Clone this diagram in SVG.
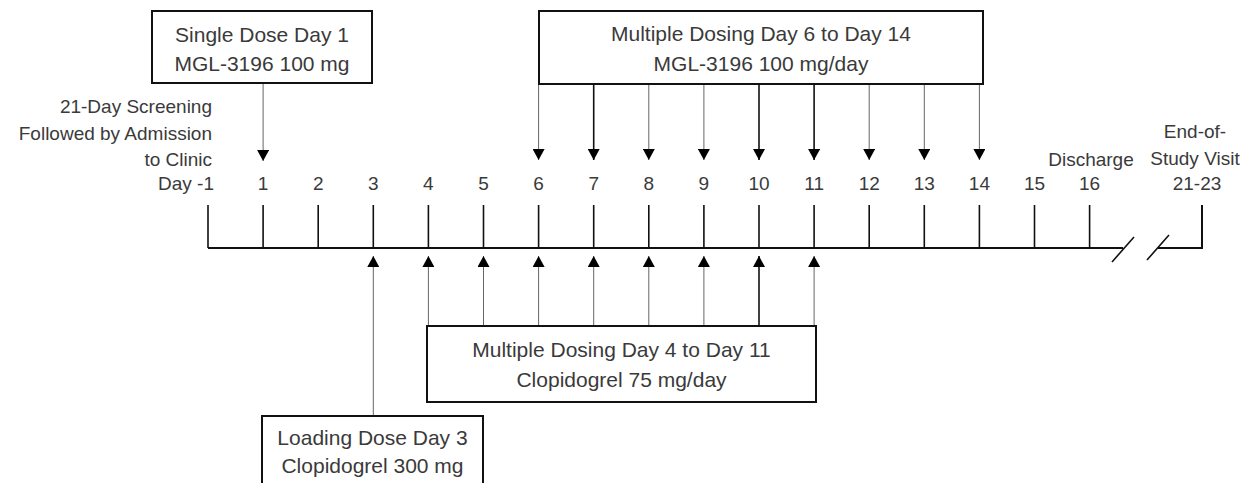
<svg xmlns="http://www.w3.org/2000/svg" width="1252" height="483" viewBox="0 0 1252 483">
<defs>
<style>
text{font-family:"Liberation Sans",Arial,sans-serif;fill:#3a3a3a;}
.box{fill:#fff;stroke:#111;stroke-width:2;}
.bt{font-size:21px;text-anchor:middle;}
.lb{font-size:19px;text-anchor:middle;}
.lr{font-size:19px;text-anchor:end;}
.axis{stroke:#111;stroke-width:2;fill:none;}
.tick{stroke:#111;stroke-width:1.6;}
.ar{stroke:#666;stroke-width:1;marker-end:url(#ah);}
.ard{stroke:#111;stroke-width:1.6;marker-end:url(#ah);}
</style>
<marker id="ah" viewBox="0 0 11 12" refX="11" refY="6" markerWidth="11" markerHeight="12" markerUnits="userSpaceOnUse" orient="auto">
<path d="M0,0 L11,6 L0,12 z" fill="#000"/>
</marker>
</defs>
<rect width="1252" height="483" fill="#fff"/>

<g id="timeline">
<path class="axis" d="M208,248 H1123 M1158,248 H1202 V205"/>
<path class="tick" d="M208,248V205 M263.1,248V205 M318.2,248V205 M373.3,248V205 M428.4,248V205 M483.5,248V205 M538.6,248V205 M593.7,248V205 M648.8,248V205 M703.9,248V205 M759,248V205 M814.1,248V205 M869.2,248V205 M924.3,248V205 M979.4,248V205 M1034.5,248V205 M1089.6,248V205"/>
<path class="tick" d="M1112,262 L1134,237 M1147,260 L1169,235"/>
</g>

<g id="labels">
<text class="lr" x="212" y="113">21-Day Screening</text>
<text class="lr" x="212" y="140">Followed by Admission</text>
<text class="lr" x="212" y="166">to Clinic</text>
<text class="lr" x="214" y="190">Day -1</text>
<text class="lb" x="263.1" y="190">1</text>
<text class="lb" x="318.2" y="190">2</text>
<text class="lb" x="373.3" y="190">3</text>
<text class="lb" x="428.4" y="190">4</text>
<text class="lb" x="483.5" y="190">5</text>
<text class="lb" x="538.6" y="190">6</text>
<text class="lb" x="593.7" y="190">7</text>
<text class="lb" x="648.8" y="190">8</text>
<text class="lb" x="703.9" y="190">9</text>
<text class="lb" x="759" y="190">10</text>
<text class="lb" x="814.1" y="190">11</text>
<text class="lb" x="869.2" y="190">12</text>
<text class="lb" x="924.3" y="190">13</text>
<text class="lb" x="979.4" y="190">14</text>
<text class="lb" x="1034.5" y="190">15</text>
<text class="lb" x="1089.6" y="190">16</text>
<text class="lb" x="1091" y="166">Discharge</text>
<text class="lb" x="1195" y="138">End-of-</text>
<text class="lb" x="1195" y="165">Study Visit</text>
<text class="lb" x="1197" y="190">21-23</text>
</g>

<g id="connectors">
<line class="ar" x1="263.1" y1="84" x2="263.1" y2="161"/>
<line class="ar" x1="538.6" y1="85" x2="538.6" y2="160"/>
<line class="ard" x1="593.7" y1="85" x2="593.7" y2="160"/>
<line class="ar" x1="648.8" y1="85" x2="648.8" y2="160"/>
<line class="ar" x1="703.9" y1="85" x2="703.9" y2="160"/>
<line class="ard" x1="759" y1="85" x2="759" y2="160"/>
<line class="ard" x1="814.1" y1="85" x2="814.1" y2="160"/>
<line class="ar" x1="869.2" y1="85" x2="869.2" y2="160"/>
<line class="ar" x1="924.3" y1="85" x2="924.3" y2="160"/>
<line class="ar" x1="979.4" y1="85" x2="979.4" y2="160"/>
<line class="ar" x1="373.3" y1="415" x2="373.3" y2="256"/>
<line class="ar" x1="428.4" y1="325" x2="428.4" y2="256"/>
<line class="ar" x1="483.5" y1="325" x2="483.5" y2="256"/>
<line class="ar" x1="538.6" y1="325" x2="538.6" y2="256"/>
<line class="ar" x1="593.7" y1="325" x2="593.7" y2="256"/>
<line class="ar" x1="648.8" y1="325" x2="648.8" y2="256"/>
<line class="ar" x1="703.9" y1="325" x2="703.9" y2="256"/>
<line class="ard" x1="759" y1="325" x2="759" y2="256"/>
<line class="ar" x1="814.1" y1="325" x2="814.1" y2="256"/>
</g>

<g id="single-dose">
<rect class="box" x="152" y="11" width="220" height="72"/>
<text class="bt" x="262" y="42">Single Dose Day 1</text>
<text class="bt" x="262" y="71">MGL-3196 100 mg</text>
</g>

<g id="multiple-mgl">
<rect class="box" x="539" y="11" width="444" height="73"/>
<text class="bt" x="761" y="41">Multiple Dosing Day 6 to Day 14</text>
<text class="bt" x="761" y="71">MGL-3196 100 mg/day</text>
</g>

<g id="multiple-clopidogrel">
<rect class="box" x="427" y="326" width="389" height="76"/>
<text class="bt" x="621.5" y="357">Multiple Dosing Day 4 to Day 11</text>
<text class="bt" x="621.5" y="387">Clopidogrel 75 mg/day</text>
</g>

<g id="loading-dose">
<rect class="box" x="262" y="416" width="221" height="80"/>
<text class="bt" x="372.5" y="445">Loading Dose Day 3</text>
<text class="bt" x="372.5" y="473">Clopidogrel 300 mg</text>
</g>
</svg>
